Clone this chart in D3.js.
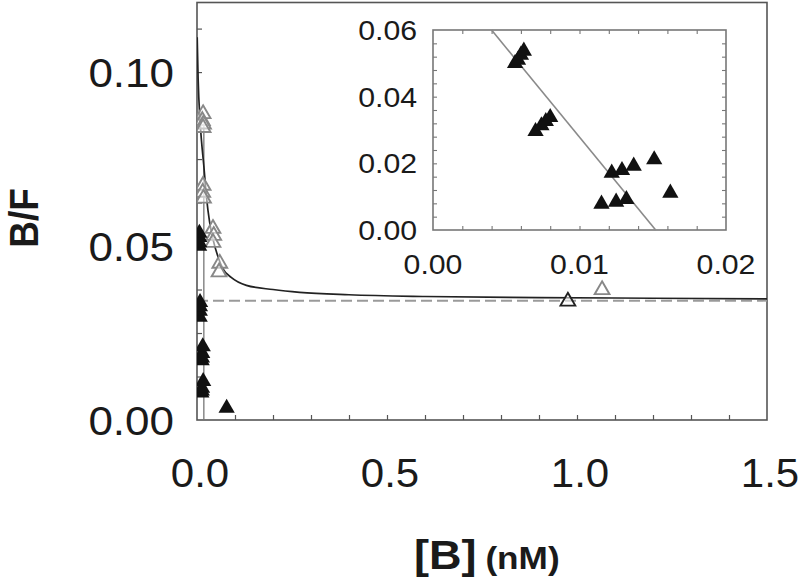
<!DOCTYPE html>
<html>
<head>
<meta charset="utf-8">
<script src="https://cdn.jsdelivr.net/npm/d3@7"></script>
<style>
  html, body { margin: 0; padding: 0; background: #fff; }
  svg { display: block; }
  text { font-family: "Liberation Sans", Arial, sans-serif; fill: #1a1a1a; }
</style>
</head>
<body>
<svg id="chart" width="800" height="578"></svg>
<script>
// ---------- data ----------
// main plot: x = [B] (nM), y = B/F
const mainXTickLabels = [0.0, 0.5, 1.0, 1.5];
const mainYTickLabels = [0.00, 0.05, 0.10];
const mainXMinorTicks = [0.1,0.2,0.3,0.4,0.5,0.6,0.7,0.8,0.9,1.0,1.1,1.2,1.3,1.4];
const mainYMinorTicks = [0.0125,0.025,0.0375,0.05,0.0625,0.075,0.0875,0.10,0.1125];

// open (grey outline) triangles
const openB  = [0.016, 0.014, 0.017, 0.016, 0.016, 0.015, 0.017, 0.042, 0.044, 0.042, 0.060, 0.058, 0.976, 1.066];
const openBF = [0.0880, 0.0860, 0.0850, 0.0840, 0.0674, 0.0654, 0.0637, 0.0550, 0.0530, 0.0510, 0.0450, 0.0425, 0.0341, 0.0374];

// filled triangles (same set shown enlarged in the inset) + one extra point in main plot
const fillB  = [0.0056, 0.0058, 0.0060, 0.0062, 0.0070, 0.0074, 0.0077, 0.0080, 0.0115, 0.0122, 0.0125, 0.0129, 0.0132, 0.0137, 0.0151, 0.0162];
const fillBF = [0.0500, 0.0510, 0.0525, 0.0537, 0.0296, 0.0313, 0.0326, 0.0338, 0.0078, 0.0171, 0.0084, 0.0179, 0.0092, 0.0192, 0.0211, 0.0111];
const extraFillB  = [0.078];
const extraFillBF = [0.0034];

// fitted curve
const curveB  = [0.0005, 0.003, 0.008, 0.012, 0.018, 0.025, 0.033, 0.042, 0.055, 0.068, 0.09, 0.13, 0.2, 0.27, 0.4, 0.6, 0.9, 1.2, 1.5];
const curveBF = [0.110, 0.098, 0.086, 0.080, 0.073, 0.064, 0.057, 0.052, 0.047, 0.0435, 0.041, 0.0387, 0.0375, 0.0367, 0.0360, 0.0355, 0.0352, 0.0350, 0.0348];

// non-specific level (dashed)
const dashB  = [0.0, 1.5];
const dashBF = [0.0343, 0.0343];

// steep grey line near x = 0 in main plot
const steepB  = [0.018, 0.018];
const steepBF = [0.086, 0.0];

// inset
const insetXTickLabels = [0.00, 0.01, 0.02];
const insetYTickLabels = [0.00, 0.02, 0.04, 0.06];
const insetXMinorTicks = [0.002,0.004,0.006,0.008,0.010,0.012,0.014,0.016,0.018];
const insetYMinorTicks = [0.004,0.008,0.012,0.016,0.020,0.024,0.028,0.032,0.036,0.040,0.044,0.048,0.052,0.056];
const insetLineB  = [0.0040, 0.0152];
const insetLineBF = [0.0600, 0.0000];

// ---------- drawing ----------
const svg = d3.select("#chart");

const x = d3.scaleLinear().domain([0, 1.5]).range([197, 767]);
const y = d3.scaleLinear().domain([0, 0.12]).range([420, 2.5]);

const ix = d3.scaleLinear().domain([0, 0.02]).range([433, 726]);
const iy = d3.scaleLinear().domain([0, 0.06]).range([230, 30]);

const frameColor = "#555";

function triPath(size) {
  return d3.symbol().type(d3.symbolTriangle).size(size)();
}

// main frame
svg.append("rect")
  .attr("x", x(0)).attr("y", y(0.12))
  .attr("width", x(1.5) - x(0)).attr("height", y(0) - y(0.12))
  .attr("fill", "none").attr("stroke", frameColor).attr("stroke-width", 1.6);

// main ticks (inward)
function tickAxis(g, axis) {
  g.call(axis);
  g.select(".domain").remove();
  g.selectAll(".tick line").attr("stroke", frameColor).attr("stroke-width", 1.2);
  g.selectAll(".tick text").remove();
}
svg.append("g").attr("transform", `translate(0,${y(0)})`)
  .call(g => tickAxis(g, d3.axisBottom(x).tickValues(mainXMinorTicks).tickSize(-5)));
svg.append("g").attr("transform", `translate(${x(0)},0)`)
  .call(g => tickAxis(g, d3.axisLeft(y).tickValues(mainYMinorTicks).tickSize(-5)));

// main tick labels
const fmt2 = d3.format(".2f"), fmt1 = d3.format(".1f");
svg.append("g").selectAll("text").data(mainYTickLabels).join("text")
  .attr("transform", d => `translate(174,${y(d) + 14.5}) scale(1.1,1)`)
  .attr("text-anchor", "end")
  .attr("font-size", 40)
  .text(d => fmt2(d));
svg.append("g").selectAll("text").data(mainXTickLabels).join("text")
  .attr("transform", d => `translate(${x(d) + 3},487) scale(1.05,1)`)
  .attr("text-anchor", "middle")
  .attr("font-size", 40)
  .text(d => fmt1(d));

// axis titles
svg.append("text")
  .attr("transform", "translate(38,218) scale(1.1,1) rotate(-90)")
  .attr("text-anchor", "middle")
  .attr("font-size", 37).attr("font-weight", "bold")
  .text("B/F");
const xt = svg.append("text")
  .attr("transform", "translate(414,569) scale(1.1,1)")
  .attr("font-weight", "bold");
xt.append("tspan").attr("font-size", 41).text("[B]");
xt.append("tspan").attr("font-size", 32).attr("dx", 8).text("(nM)");

// clip for main plot
svg.append("clipPath").attr("id", "mainclip").append("rect")
  .attr("x", x(0)).attr("y", y(0.12)).attr("width", x(1.5) - x(0)).attr("height", y(0) - y(0.12));
const plot = svg.append("g").attr("clip-path", "url(#mainclip)");

// dashed non-specific line
plot.append("path")
  .attr("d", d3.line().x((d,i) => x(dashB[i])).y((d,i) => y(dashBF[i]))(dashB))
  .attr("fill", "none").attr("stroke", "#9a9a9a").attr("stroke-width", 2)
  .attr("stroke-dasharray", "11,5");

// steep line
plot.append("path")
  .attr("d", d3.line().x((d,i) => x(steepB[i])).y((d,i) => y(steepBF[i]))(steepB))
  .attr("fill", "none").attr("stroke", "#777").attr("stroke-width", 1.3);

// fitted curve
plot.append("path")
  .attr("d", d3.line().curve(d3.curveMonotoneX).x((d,i) => x(curveB[i])).y((d,i) => y(curveBF[i]))(curveB))
  .attr("fill", "none").attr("stroke", "#222").attr("stroke-width", 1.7);

// open triangles
plot.append("g").selectAll("path").data(openB).join("path")
  .attr("d", triPath(95))
  .attr("transform", (d,i) => `translate(${x(d)},${y(openBF[i])})`)
  .attr("fill", "#fff").attr("fill-opacity", 0.55)
  .attr("stroke", (d,i) => i === 12 ? "#222" : "#888").attr("stroke-width", 1.9);

// filled triangles in main plot
plot.append("g").selectAll("path").data(fillB.concat(extraFillB)).join("path")
  .attr("d", triPath(115))
  .attr("transform", (d,i) => `translate(${x(d)},${y(fillBF.concat(extraFillBF)[i])})`)
  .attr("fill", "#111");

// ---------- inset ----------
const inset = svg.append("g");
inset.append("rect")
  .attr("x", ix(0)).attr("y", iy(0.06))
  .attr("width", ix(0.02) - ix(0)).attr("height", iy(0) - iy(0.06))
  .attr("fill", "#fff").attr("stroke", "#777").attr("stroke-width", 1.6);

function insetTicks(g, axis) {
  g.call(axis);
  g.select(".domain").remove();
  g.selectAll(".tick line").attr("stroke", "#777").attr("stroke-width", 1.1);
  g.selectAll(".tick text").remove();
}
inset.append("g").attr("transform", `translate(0,${iy(0)})`)
  .call(g => insetTicks(g, d3.axisBottom(ix).tickValues(insetXMinorTicks).tickSize(-4)));
inset.append("g").attr("transform", `translate(0,${iy(0.06)})`)
  .call(g => insetTicks(g, d3.axisTop(ix).tickValues(insetXMinorTicks).tickSize(-4)));
inset.append("g").attr("transform", `translate(${ix(0)},0)`)
  .call(g => insetTicks(g, d3.axisLeft(iy).tickValues(insetYMinorTicks).tickSize(-4)));
inset.append("g").attr("transform", `translate(${ix(0.02)},0)`)
  .call(g => insetTicks(g, d3.axisRight(iy).tickValues(insetYMinorTicks).tickSize(-4)));

inset.append("g").selectAll("text").data(insetYTickLabels).join("text")
  .attr("transform", d => `translate(417,${iy(d) + 10}) scale(1.08,1)`)
  .attr("text-anchor", "end")
  .attr("font-size", 28)
  .text(d => fmt2(d));
inset.append("g").selectAll("text").data(insetXTickLabels).join("text")
  .attr("transform", d => `translate(${ix(d)},274) scale(1.08,1)`)
  .attr("text-anchor", "middle")
  .attr("font-size", 28)
  .text(d => fmt2(d));

inset.append("path")
  .attr("d", d3.line().x((d,i) => ix(insetLineB[i])).y((d,i) => iy(insetLineBF[i]))(insetLineB))
  .attr("fill", "none").attr("stroke", "#8a8a8a").attr("stroke-width", 1.6);

inset.append("g").selectAll("path").data(fillB).join("path")
  .attr("d", triPath(115))
  .attr("transform", (d,i) => `translate(${ix(d)},${iy(fillBF[i])})`)
  .attr("fill", "#111");
</script>
</body>
</html>
